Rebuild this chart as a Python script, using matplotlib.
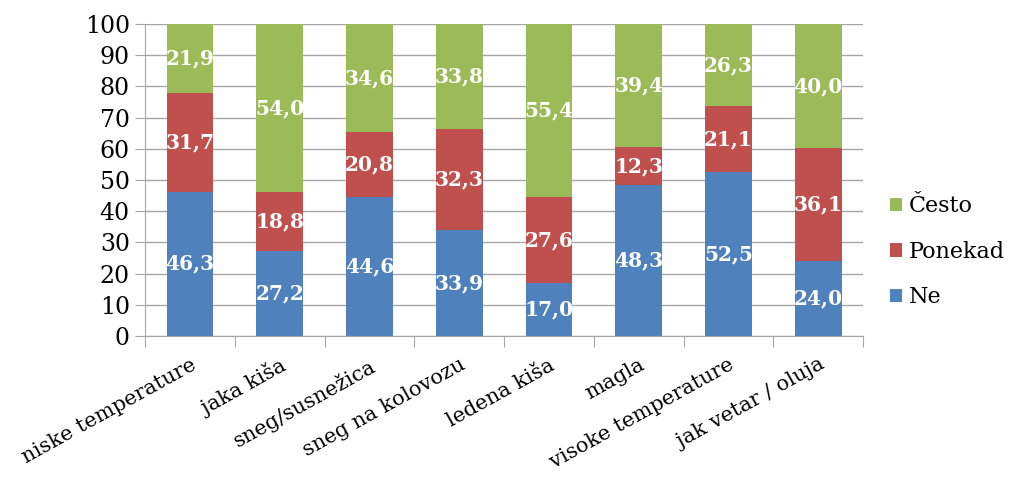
import matplotlib
matplotlib.use("Agg")
import matplotlib.pyplot as plt
import numpy as np

categories = ["niske temperature", "jaka kiša", "sneg/susnežica", "sneg na kolovozu",
              "ledena kiša", "magla", "visoke temperature", "jak vetar / oluja"]
ne = [46.3, 27.2, 44.6, 33.9, 17.0, 48.3, 52.5, 24.0]
ponekad = [31.7, 18.8, 20.8, 32.3, 27.6, 12.3, 21.1, 36.1]
cesto = [21.9, 54.0, 34.6, 33.8, 55.4, 39.4, 26.3, 40.0]
series_names = ["Ne", "Ponekad", "Često"]
colors = ["#4F81BD", "#C0504D", "#9BBB59"]
yticks = list(range(0, 101, 10))

plt.rcParams['font.family'] = ['DejaVu Serif']

fig = plt.figure(figsize=(10.25, 4.79), dpi=100)
ax = fig.add_axes([0.1415, 0.2985, 0.7005, 0.6515])

x = np.arange(len(categories))
bottom = np.zeros(len(categories))
handles = []
for vals, name, col in zip([ne, ponekad, cesto], series_names, colors):
    vals = np.array(vals)
    b = ax.bar(x, vals, width=0.52, bottom=bottom, color=col, label=name, zorder=2)
    handles.append(b)
    for xi, v, bt in zip(x, vals, bottom):
        ax.text(xi, bt + v / 2, f"{v:.1f}".replace(".", ","), ha="center", va="center",
                color="white", fontsize=14.5, fontweight="bold", zorder=3)
    bottom += vals

ax.set_xlim(-0.5, len(categories) - 0.5)
ax.set_ylim(0, 100)
ax.set_yticks(yticks)
ax.set_yticklabels([str(t) for t in yticks], fontsize=17)
ax.yaxis.grid(True, color="#a6a6a6", linewidth=1.0, zorder=0)
ax.set_axisbelow(True)
for s in ["top", "right"]:
    ax.spines[s].set_visible(False)
ax.spines["left"].set_color("#a6a6a6")
ax.spines["bottom"].set_color("#a6a6a6")
ax.tick_params(axis="y", length=7, color="#a6a6a6", pad=4)

ax.set_xticks(np.arange(-0.5, len(categories) + 0.5, 1.0))
ax.set_xticklabels([])
ax.tick_params(axis="x", length=8, color="#a6a6a6")
ax.set_xticks(x, minor=True)
ax.set_xticklabels(categories, minor=True, rotation=29, ha="right",
                   rotation_mode="anchor", fontsize=15)
ax.tick_params(axis="x", which="minor", length=0, pad=14)

leg = ax.legend(handles[::-1], series_names[::-1], loc="center left",
                bbox_to_anchor=(1.01, 0.27), frameon=False, fontsize=16,
                handlelength=0.55, handleheight=0.55, handletextpad=0.3,
                labelspacing=1.05)

fig.savefig("out.png", dpi=100)
